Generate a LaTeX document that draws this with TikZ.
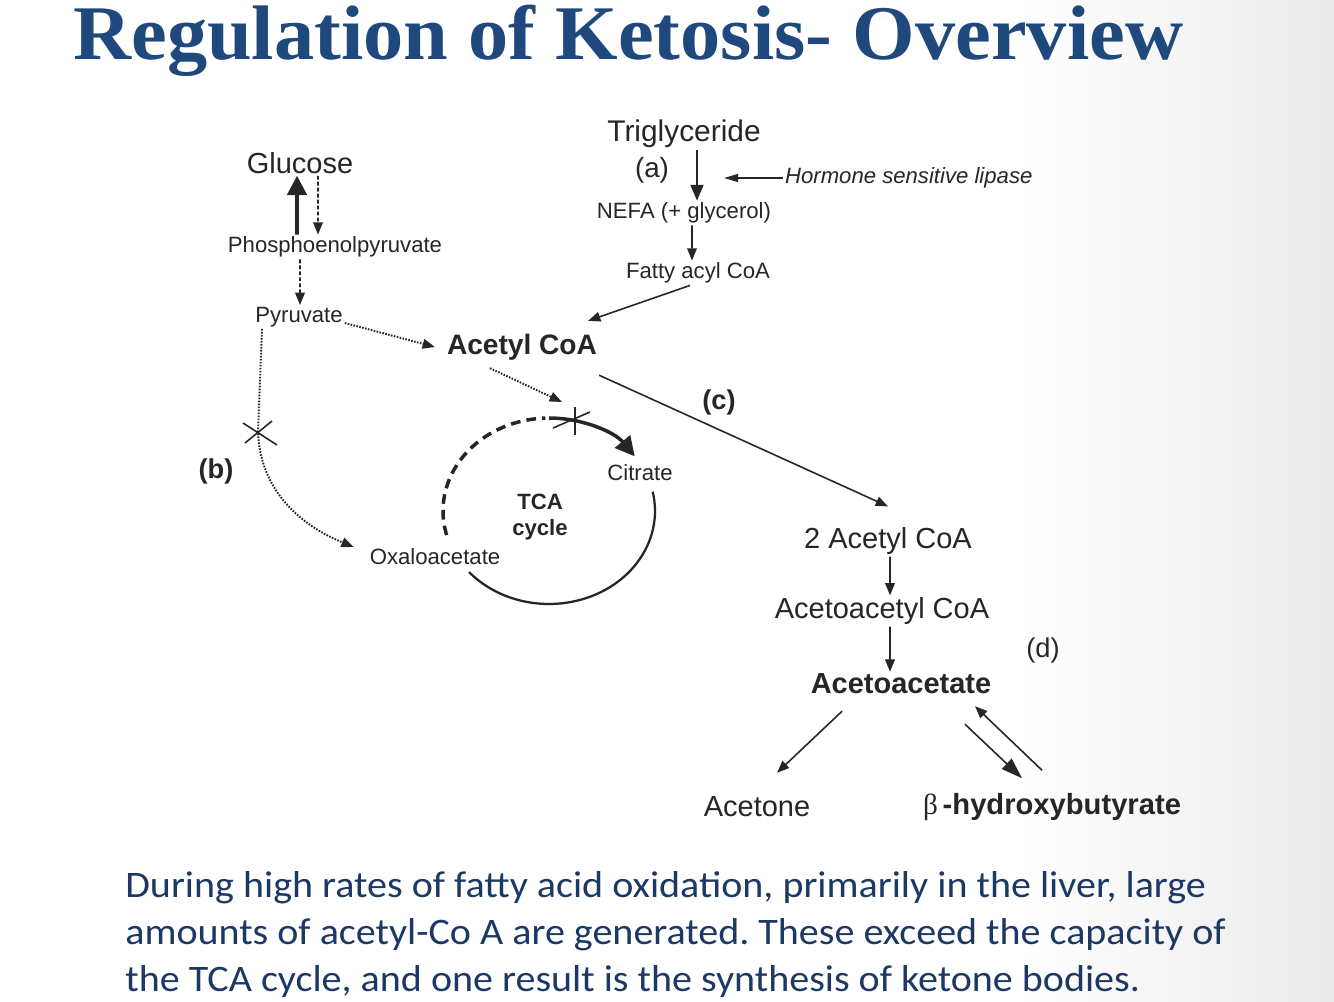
\documentclass[tikz,border=0pt]{standalone}
\usepackage{fontspec}
\setmainfont{Liberation Sans}
\newfontfamily\titlefont[FakeStretch=1.04]{Liberation Serif}
\newfontfamily\symfont{Liberation Serif}
\newfontfamily\bodyfont[FakeStretch=1.07]{Carlito}
\usetikzlibrary{arrows.meta,calc}
\definecolor{titleblue}{RGB}{31,73,125}
\definecolor{bodyblue}{RGB}{28,56,100}
\definecolor{ink}{RGB}{38,38,38}
\frenchspacing

\begin{document}
\begin{tikzpicture}[x=0.02cm, y=-0.02cm, >={Triangle[length=7pt,width=5.5pt]},
  lbl/.style={font=\fontsize{12.6}{15}\selectfont, text=ink, inner sep=1pt},
  biglbl/.style={font=\fontsize{16.5}{19}\selectfont, text=ink, inner sep=1pt},
  boldlbl/.style={font=\bfseries\fontsize{16}{19}\selectfont, text=ink, inner sep=1pt},
  tag/.style={font=\bfseries\fontsize{15.5}{19}\selectfont, text=ink, inner sep=1pt},
  body/.style={anchor=base west, inner sep=0pt, text=bodyblue, font=\bodyfont\fontsize{21.3}{25}\selectfont},
  flow/.style={->, draw=ink, line width=0.9pt},
  dotflow/.style={flow, line width=1.1pt, dash pattern=on 0.9pt off 0.8pt},
  dashflow/.style={flow, dash pattern=on 2.2pt off 1.2pt}]

\useasboundingbox (0,0) rectangle (1334,1001);
\fill[white] (0,0) rectangle (1334,1001);
\shade[left color=white, right color=black!8] (1020,0) rectangle (1334,1001);

% title and caption
\node[anchor=base west, inner sep=0pt, text=titleblue, font=\titlefont\bfseries\fontsize{44}{50}\selectfont] (title) at (73,59) {Regulation of Ketosis- Overview};
\node[body] (line1) at (125,897) {During high rates of fatty acid oxidation, primarily in the liver, large};
\node[body] (line2) at (125,944) {amounts of acetyl-Co A are generated. These exceed the capacity of};
\node[body] (line3) at (125,991) {the TCA cycle, and one result is the synthesis of ketone bodies.};

% gluconeogenesis branch
\node[biglbl] (glu) at (300,163) {Glucose};
\node[lbl] (pep) at (335,247) {Phosphoenolpyruvate};
\node[lbl] (pyr) at (299,317) {Pyruvate};
\node[boldlbl] (acoa) at (522,347) {Acetyl CoA};

\draw[ink, line width=2.2pt, -{Triangle[length=11pt,width=11pt]}] ([xshift=-0.76cm]pep.north) -- ([xshift=-0.06cm]glu.south);
\draw[dashflow] ([xshift=0.36cm]glu.south) -- ([xshift=-0.34cm]pep.north);
\draw[dashflow] ([xshift=-0.7cm]pep.south) -- ([xshift=0.02cm]pyr.north);
\draw[dotflow] ([yshift=-0.12cm]pyr.east) -- ([xshift=-0.2cm]acoa.west);

% lipolysis branch
\node[font=\fontsize{17}{20}\selectfont, text=ink, inner sep=1pt] (trig) at (684,134) {Triglyceride};
\node[font=\fontsize{15.8}{19}\selectfont, text=ink, inner sep=1pt] (lbla) at (652,170) {(a)};
\node[lbl, font=\itshape\fontsize{12.6}{15}\selectfont, anchor=west] (hsl) at (783,178) {Hormone sensitive lipase};
\node[lbl] (nefa) at (684,213) {NEFA (+ glycerol)};
\node[lbl] (facoa) at (698,273) {Fatty acyl CoA};
\coordinate (lipase) at (724,178);

\draw[flow, -{Triangle[length=9pt,width=7.5pt]}] ([xshift=0.26cm]trig.south) -- ([xshift=0.26cm]nefa.north);
\draw[flow, -{Triangle[length=8pt,width=4.5pt]}] (hsl.west) -- (lipase);
\draw[flow] ([xshift=0.16cm]nefa.south) -- ([xshift=-0.12cm]facoa.north);
\draw[flow] ([xshift=-0.16cm]facoa.south) -- ([xshift=-0.22cm,yshift=0.22cm]acoa.north east);

% TCA cycle
\coordinate (tca) at (549,511);
\coordinate (entry) at (562,402);
\coordinate (block) at (575,420);
\node[lbl] (cit) at (640,473) {Citrate};
\node[lbl, font=\bfseries\fontsize{12.6}{15}\selectfont, align=center] (tcalbl) at (540,517) {TCA\\cycle};
\node[lbl] (oaa) at (435,557) {Oxaloacetate};

\draw[ink, line width=2pt, dash pattern=on 5.5pt off 3.5pt] ($(tca)+(195:2.12cm and 1.86cm)$) arc[start angle=195, end angle=92, x radius=2.12cm, y radius=1.86cm];
\draw[ink, line width=2pt, -{Triangle[length=11pt,width=11pt]}] ($(tca)+(90:2.12cm and 1.86cm)$) arc[start angle=90, end angle=36, x radius=2.12cm, y radius=1.86cm];
\draw[ink, line width=1.3pt] ($(tca)+(12:2.12cm and 1.86cm)$) arc[start angle=12, end angle=-139, x radius=2.12cm, y radius=1.86cm];
\draw[ink, line width=0.9pt] (block) ++(0,-13) -- ++(0,28);
\draw[ink, line width=0.9pt] (block) ++(-22,8) -- ++(37,-16);
\draw[dotflow] ([xshift=-0.64cm,yshift=-0.12cm]acoa.south) -- (entry);

% blocked anaplerosis
\coordinate (xb) at (258,432);
\node[tag] (lblb) at (216,471) {(b)};
\draw[dotflow] ([xshift=-0.74cm]pyr.south) -- (xb) .. controls (260,490) and (300,525) .. ([xshift=-0.28cm,yshift=0.2cm]oaa.west);
\draw[ink, line width=0.9pt] (xb) ++(-15,-9) -- ++(34,22);
\draw[ink, line width=0.9pt] (xb) ++(-13,11) -- ++(27,-22);

% ketogenesis
\node[biglbl] (tacoa) at (888,541) {2 Acetyl CoA};
\node[biglbl] (aacoa) at (882,611) {Acetoacetyl CoA};
\node[boldlbl, font=\bfseries\fontsize{16.5}{19}\selectfont] (aac) at (901,684) {Acetoacetate};
\node[tag] (lblc) at (719,402) {(c)};
\node[tag, font=\fontsize{15.5}{19}\selectfont] (lbld) at (1043,650) {(d)};
\node[biglbl] (acetone) at (757,807) {Acetone};
\node[boldlbl, font=\bfseries\fontsize{16.6}{19}\selectfont] (bhb) at (1052,807) {{\symfont\mdseries β}\,-hydroxybutyrate};

\draw[flow] ([yshift=-0.26cm]acoa.south east) -- ([yshift=0.38cm]tacoa.north);
\draw[flow] ([xshift=0.04cm]tacoa.south) -- ([xshift=0.16cm]aacoa.north);
\draw[flow] ([xshift=0.16cm]aacoa.south) -- ([xshift=-0.22cm]aac.north);
\draw[flow] ([xshift=-1.18cm,yshift=-0.3cm]aac.south) -- ([xshift=0.4cm,yshift=0.44cm]acetone.north);
\draw[flow, -{Triangle[length=12pt,width=8pt]}] ([xshift=1.28cm,yshift=-0.56cm]aac.south) -- ([xshift=-0.6cm,yshift=0.26cm]bhb.north);
\draw[flow] ([xshift=-0.2cm,yshift=0.42cm]bhb.north) -- ([xshift=1.48cm,yshift=-0.2cm]aac.south);
\end{tikzpicture}
\end{document}
